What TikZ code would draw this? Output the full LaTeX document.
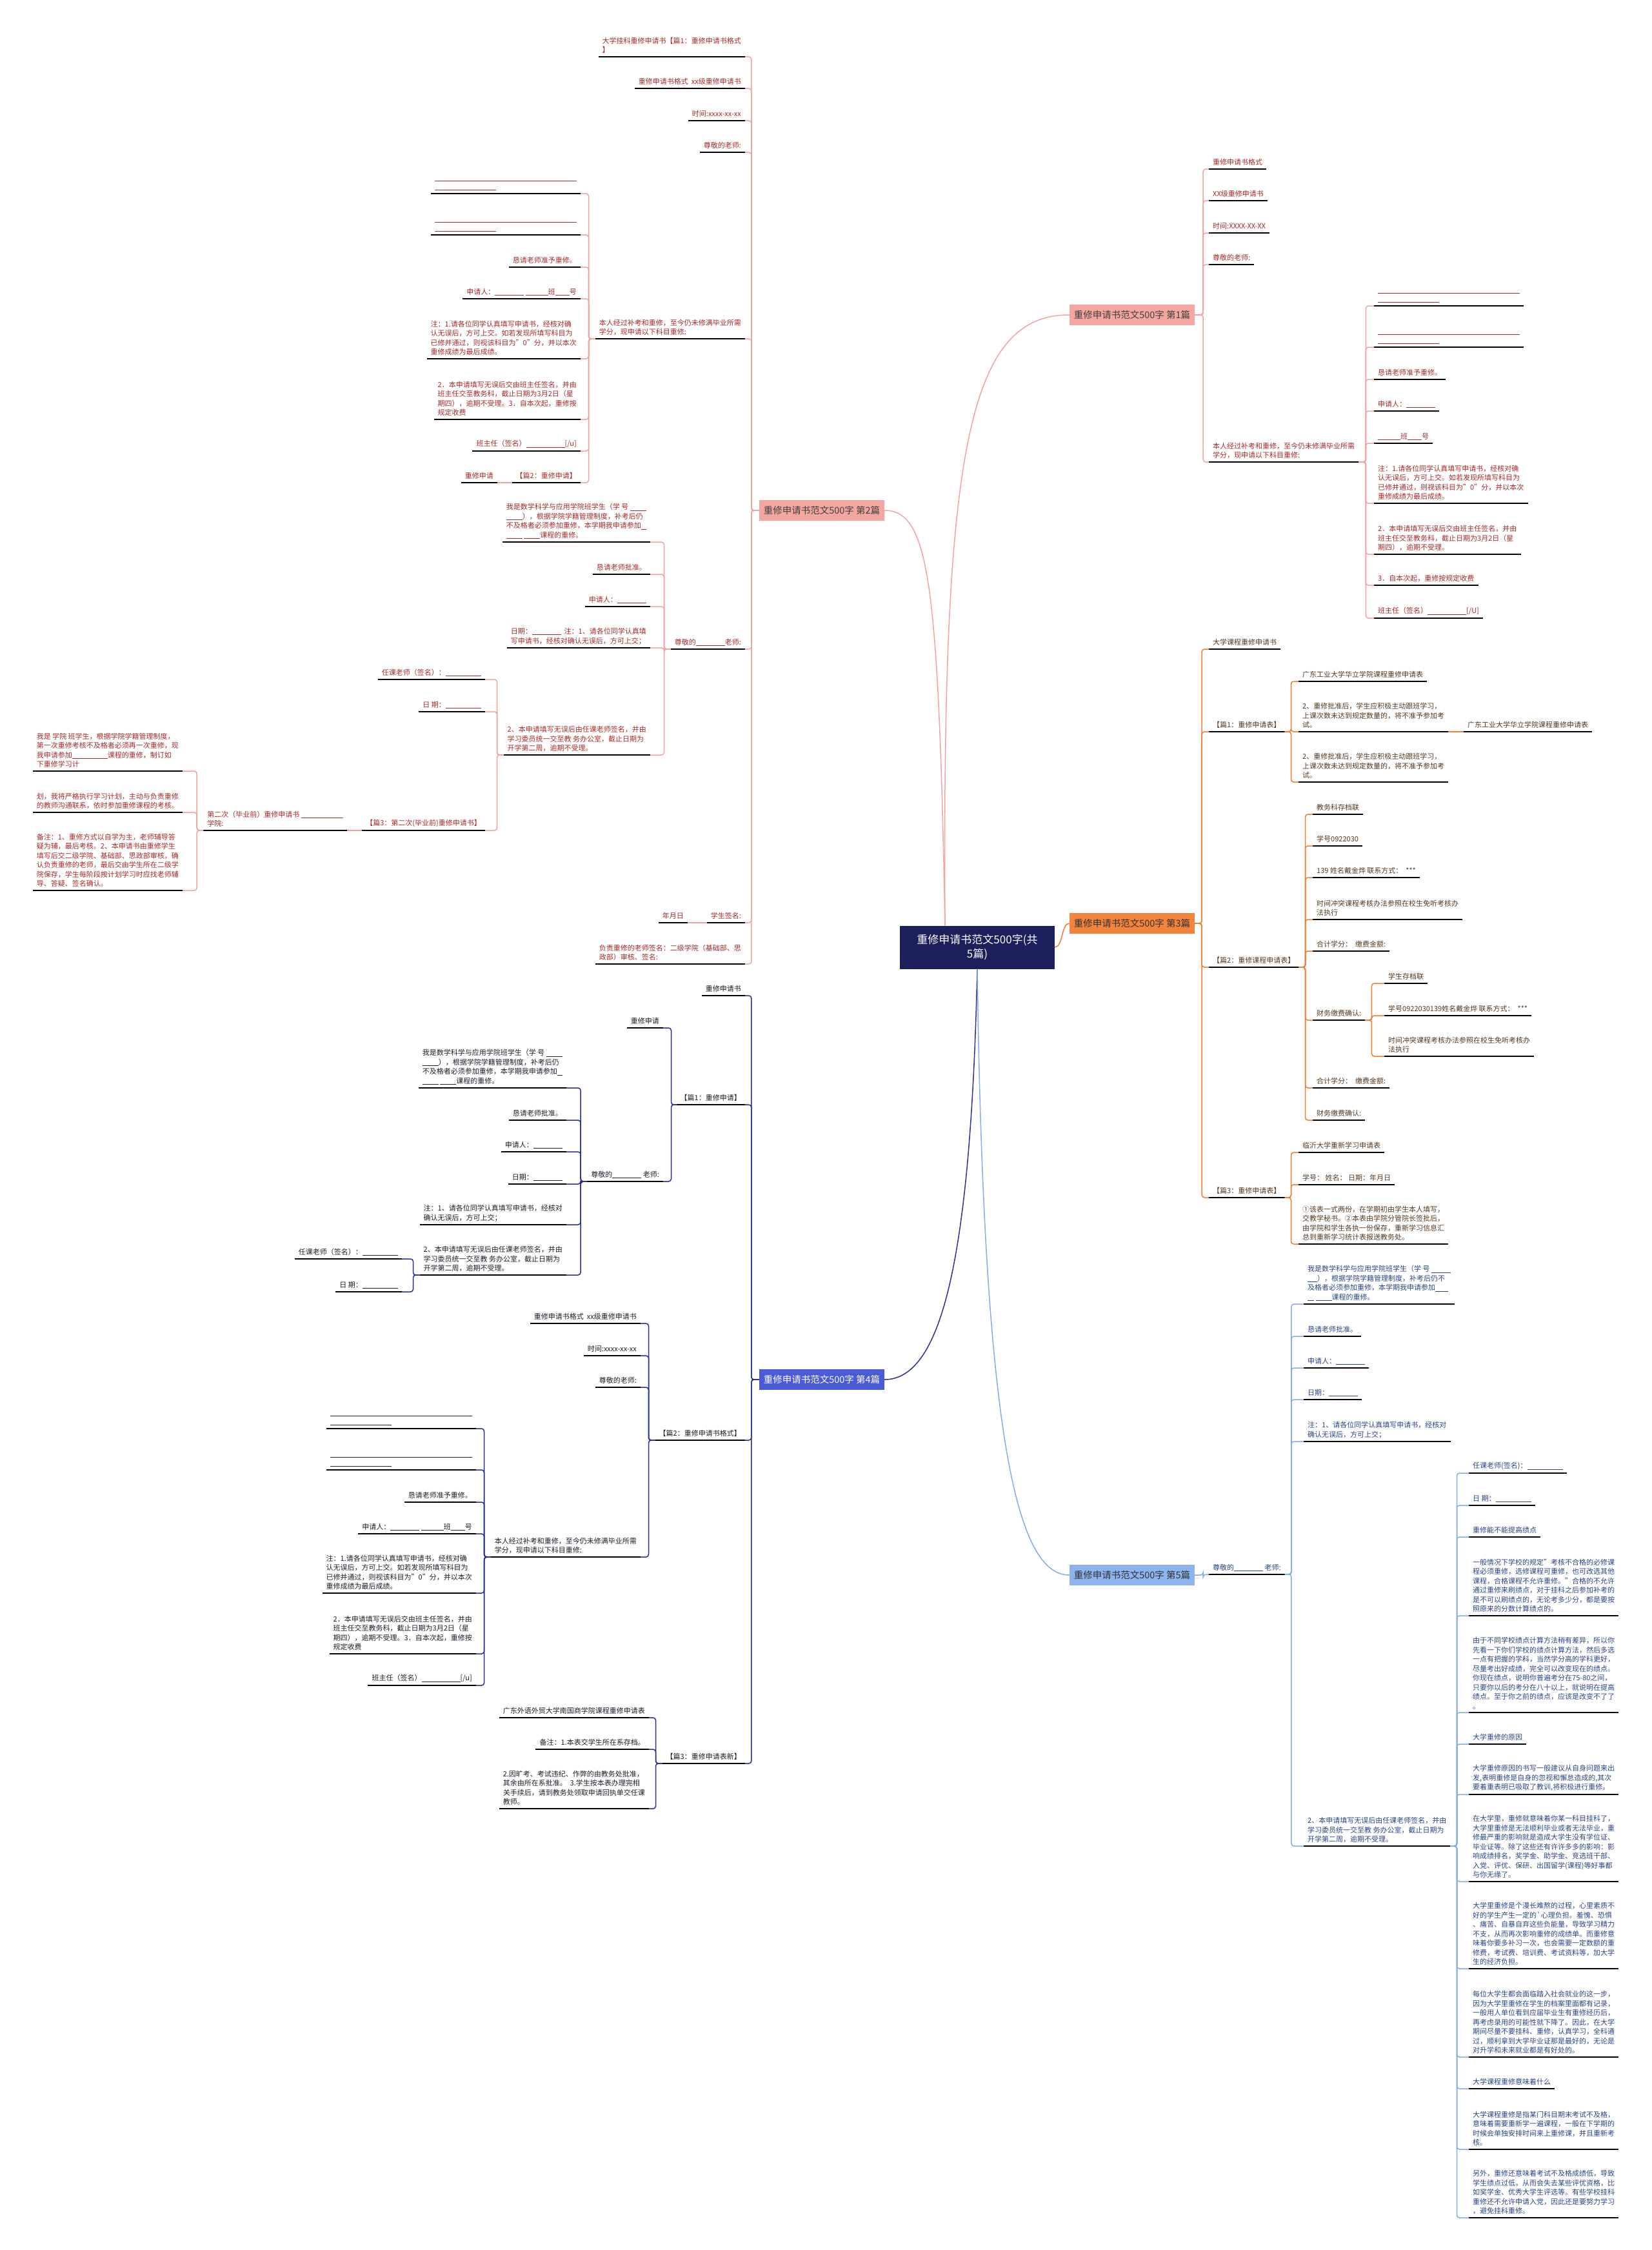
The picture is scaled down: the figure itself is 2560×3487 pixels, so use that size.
\documentclass[tikz,border=0pt]{standalone}
\usepackage{fontspec}
\setmainfont{Noto Sans CJK SC}
\usetikzlibrary{positioning}

\definecolor{ctrblue}{HTML}{1B1F5C}
\definecolor{redtxt}{HTML}{A52A2A}
\definecolor{pinkln}{HTML}{F0A3A0}
\definecolor{pinkbox}{HTML}{F4A7A1}
\definecolor{orgln}{HTML}{EC7F36}
\definecolor{orgbox}{HTML}{F2843C}
\definecolor{browntxt}{HTML}{553A22}
\definecolor{navyln}{HTML}{2B2F96}
\definecolor{bluebox}{HTML}{4B5AD6}
\definecolor{darktxt}{HTML}{1E1E2A}
\definecolor{skyln}{HTML}{84ACE6}
\definecolor{skybox}{HTML}{8DB4EE}
\definecolor{skytxt}{HTML}{2C4585}

\newcommand{\ublank}[1]{\rule[-1.5pt]{#1pt}{0.6pt}}

\begin{document}
\begin{tikzpicture}[x=1pt, y=-1pt,
    leaf/.style={font=\fontsize{11}{14.5}\selectfont, align=left,
                 inner xsep=6pt, inner ysep=5pt,
                 append after command={(\tikzlastnode.south west) edge[uline] (\tikzlastnode.south east)}},
    uline/.style={draw=black, line width=2pt},
    rt/.style={leaf, anchor=south west},
    lt/.style={leaf, anchor=south east},
    pk/.style={text=redtxt},
    og/.style={text=browntxt},
    nv/.style={text=darktxt},
    sk/.style={text=skytxt},
    topic/.style={font=\fontsize{14.5}{17}\selectfont, minimum width=194pt,
                  minimum height=32pt, inner sep=2pt},
    lk1/.style={draw=pinkln, line width=1.5pt, rounded corners=4pt},
    lk3/.style={lk1, draw=orgln},
    lk4/.style={lk1, draw=navyln},
    lk5/.style={lk1, draw=skyln},
  ]
  \fill[white] (0,0) rectangle (2560,3487);
  \useasboundingbox (0,0) rectangle (2560,3487);

  % centre and the five topics
  \node[fill=ctrblue, text=white, font=\fontsize{17}{22}\selectfont, align=center,
        minimum width=240pt, minimum height=67pt] (ctr) at (1515,1468) {重修申请书范文500字(共\\5篇)};
  \node[topic, fill=pinkbox, text=black!75] (b1) at (1755,488) {重修申请书范文500字 第1篇};
  \node[topic, fill=pinkbox, text=black!75] (b2) at (1274,791) {重修申请书范文500字 第2篇};
  \node[topic, fill=orgbox, text=black!80] (b3) at (1755,1431) {重修申请书范文500字 第3篇};
  \node[topic, fill=bluebox, text=white] (b4) at (1274,2138) {重修申请书范文500字 第4篇};
  \node[topic, fill=skybox, text=black!80] (b5) at (1755,2441) {重修申请书范文500字 第5篇};

  \draw[lk1] ([xshift=-50pt]ctr.north) .. controls (1455,900) and (1440,791) .. (b2.east);
  \draw[lk1] ([xshift=-50pt]ctr.north) .. controls (1460,700) and (1500,488) .. (b1.west);
  \draw[lk3] (ctr.east) .. controls (1648,1468) and (1645,1431) .. (b3.west);
  \draw[lk4] (ctr.south) .. controls (1505,1950) and (1460,2138) .. (b4.east);
  \draw[lk5] (ctr.south) .. controls (1525,2250) and (1580,2441) .. (b5.west);

  % Topic 1
  \node[rt, pk] (c1a) at (1874,262) {重修申请书格式};
  \node[rt, pk] (c1b) at (1874,311) {XX级重修申请书};
  \node[rt, pk] (c1c) at (1874,361) {时间:XXXX-XX-XX};
  \node[rt, pk] (c1d) at (1874,410) {尊敬的老师:};
  \node[rt, pk] (c1e) at (1874,716) {本人经过补考和重修，至今仍未修满毕业所需\\学分，现申请以下科目重修:};
  \node[rt, pk] (c1e1) at (2130,474) {\ublank{220}\\\ublank{95}};
  \node[rt, pk] (c1e2) at (2130,538) {\ublank{220}\\\ublank{95}};
  \node[rt, pk] (c1e3) at (2130,588) {恳请老师准予重修。};
  \node[rt, pk] (c1e4) at (2130,637) {申请人：\ublank{45}};
  \node[rt, pk] (c1e5) at (2130,687) {\ublank{35}班\ublank{22}号};
  \node[rt, pk] (c1e6) at (2130,780) {注：1.请各位同学认真填写申请书，经核对确\\认无误后，方可上交。如若发现所填写科目为\\已修并通过，则视该科目为"0"分，并以本次\\重修成绩为最后成绩。};
  \node[rt, pk] (c1e7) at (2130,859) {2．本申请填写无误后交由班主任签名，并由\\班主任交至教务科，截止日期为3月2日（星\\期四），逾期不受理。};
  \node[rt, pk] (c1e8) at (2130,907) {3．自本次起，重修按规定收费};
  \node[rt, pk] (c1e9) at (2130,958) {班主任（签名）\ublank{60}[/U]};

  \draw[lk1] (b1.east) -- ++(13,0) |- (c1a.south west);
  \draw[lk1] (b1.east) -- ++(13,0) |- (c1b.south west);
  \draw[lk1] (b1.east) -- ++(13,0) |- (c1c.south west);
  \draw[lk1] (b1.east) -- ++(13,0) |- (c1d.south west);
  \draw[lk1] (b1.east) -- ++(13,0) |- (c1e.south west);
  \draw[lk1] (c1e.south east) -- ++(11,0) |- (c1e1.south west);
  \draw[lk1] (c1e.south east) -- ++(11,0) |- (c1e2.south west);
  \draw[lk1] (c1e.south east) -- ++(11,0) |- (c1e3.south west);
  \draw[lk1] (c1e.south east) -- ++(11,0) |- (c1e4.south west);
  \draw[lk1] (c1e.south east) -- ++(11,0) |- (c1e5.south west);
  \draw[lk1] (c1e.south east) -- ++(11,0) |- (c1e6.south west);
  \draw[lk1] (c1e.south east) -- ++(11,0) |- (c1e7.south west);
  \draw[lk1] (c1e.south east) -- ++(11,0) |- (c1e8.south west);
  \draw[lk1] (c1e.south east) -- ++(11,0) |- (c1e9.south west);

  % Topic 2
  \node[lt, pk] (c2a) at (1155,88) {大学挂科重修申请书【篇1：重修申请书格式\\】};
  \node[lt, pk] (c2b) at (1155,137) {重修申请书格式\ \ xx级重修申请书};
  \node[lt, pk] (c2c) at (1155,187) {时间:xxxx-xx-xx};
  \node[lt, pk] (c2d) at (1155,236) {尊敬的老师:};
  \node[lt, pk] (c2e) at (1155,525) {本人经过补考和重修，至今仍未修满毕业所需\\学分，现申请以下科目重修:};
  \node[lt, pk] (c2e1) at (900,300) {\ublank{220}\\\ublank{95}};
  \node[lt, pk] (c2e2) at (900,364) {\ublank{220}\\\ublank{95}};
  \node[lt, pk] (c2e3) at (900,414) {恳请老师准予重修。};
  \node[lt, pk] (c2e4) at (900,463) {申请人：\ublank{45}\ \ublank{35}班\ublank{22}号};
  \node[lt, pk] (c2e5) at (900,556) {注：1.请各位同学认真填写申请书，经核对确\\认无误后，方可上交。如若发现所填写科目为\\已修并通过，则视该科目为"0"分，并以本次\\重修成绩为最后成绩。};
  \node[lt, pk] (c2e6) at (900,650) {2．本申请填写无误后交由班主任签名，并由\\班主任交至教务科，截止日期为3月2日（星\\期四），逾期不受理。3．自本次起，重修按\\规定收费};
  \node[lt, pk] (c2e7) at (900,699) {班主任（签名）\ublank{60}[/u]};
  \node[lt, pk] (c2e8) at (900,748) {【篇2：重修申请】};
  \node[lt, pk] (c2e8a) at (771,748) {重修申请};
  \node[lt, pk] (c2f) at (1155,1006) {尊敬的\ublank{45}老师:};
  \node[lt, pk] (c2f1) at (1008,840) {我是数学科学与应用学院班学生（学 号 \ublank{25}\\\ublank{25}），根据学院学籍管理制度，补考后仍\\不及格者必须参加重修，本学期我申请参加\ublank{8}\\\ublank{25} \ublank{25}课程的重修。};
  \node[lt, pk] (c2f2) at (1008,890) {恳请老师批准。};
  \node[lt, pk] (c2f3) at (1008,940) {申请人：\ublank{45}};
  \node[lt, pk] (c2f4) at (1008,1004) {日期：\ublank{45}\ \ 注：1、请各位同学认真填\\写申请书，经核对确认无误后，方可上交；};
  \node[lt, pk] (c2f5) at (1008,1170) {2、本申请填写无误后由任课老师签名，并由\\学习委员统一交至教 务办公室，截止日期为\\开学第二周，逾期不受理。};
  \node[lt, pk] (c2f5a) at (752,1053) {任课老师（签名）：\ublank{55}};
  \node[lt, pk] (c2f5b) at (752,1103) {日 期：\ublank{55}};
  \node[lt, pk] (c2f5c) at (752,1287) {【篇3：第二次(毕业前)重修申请书】};
  \node[lt, pk] (c2f5c1) at (538,1287) {第二次（毕业前）重修申请书 \ublank{65}\\学院:};
  \node[lt, pk] (c2f5c1a) at (283,1195) {我是 学院 班学生，根据学院学籍管理制度，\\第一次重修考核不及格者必须再一次重修，现\\我申请参加\ublank{55}课程的重修，制订如\\下重修学习计};
  \node[lt, pk] (c2f5c1b) at (283,1259) {划，我将严格执行学习计划，主动与负责重修\\的教师沟通联系，依时参加重修课程的考核。};
  \node[lt, pk] (c2f5c1c) at (283,1380) {备注：1、重修方式以自学为主，老师辅导答\\疑为辅，最后考核。2、本申请书由重修学生\\填写后交二级学院、基础部、思政部审核，确\\认负责重修的老师，最后交由学生所在二级学\\院保存，学生每阶段按计划学习时应找老师辅\\导、答疑、签名确认。};
  \node[lt, pk] (c2g) at (1155,1430) {学生签名:};
  \node[lt, pk] (c2g1) at (1066,1430) {年月日};
  \node[lt, pk] (c2h) at (1155,1494) {负责重修的老师签名：二级学院（基础部、思\\政部）审核、签名:};

  \draw[lk1] (b2.west) -- ++(-12,0) |- (c2a.south east);
  \draw[lk1] (b2.west) -- ++(-12,0) |- (c2b.south east);
  \draw[lk1] (b2.west) -- ++(-12,0) |- (c2c.south east);
  \draw[lk1] (b2.west) -- ++(-12,0) |- (c2d.south east);
  \draw[lk1] (b2.west) -- ++(-12,0) |- (c2e.south east);
  \draw[lk1] (b2.west) -- ++(-12,0) |- (c2f.south east);
  \draw[lk1] (b2.west) -- ++(-12,0) |- (c2g.south east);
  \draw[lk1] (b2.west) -- ++(-12,0) |- (c2h.south east);
  \draw[lk1] (c2e.south west) -- ++(-10,0) |- (c2e1.south east);
  \draw[lk1] (c2e.south west) -- ++(-10,0) |- (c2e2.south east);
  \draw[lk1] (c2e.south west) -- ++(-10,0) |- (c2e3.south east);
  \draw[lk1] (c2e.south west) -- ++(-10,0) |- (c2e4.south east);
  \draw[lk1] (c2e.south west) -- ++(-10,0) |- (c2e5.south east);
  \draw[lk1] (c2e.south west) -- ++(-10,0) |- (c2e6.south east);
  \draw[lk1] (c2e.south west) -- ++(-10,0) |- (c2e7.south east);
  \draw[lk1] (c2e.south west) -- ++(-10,0) |- (c2e8.south east);
  \draw[lk1] (c2e8.south west) -- (c2e8a.south east);
  \draw[lk1] (c2f.south west) -- ++(-10,0) |- (c2f1.south east);
  \draw[lk1] (c2f.south west) -- ++(-10,0) |- (c2f2.south east);
  \draw[lk1] (c2f.south west) -- ++(-10,0) |- (c2f3.south east);
  \draw[lk1] (c2f.south west) -- ++(-10,0) |- (c2f4.south east);
  \draw[lk1] (c2f.south west) -- ++(-10,0) |- (c2f5.south east);
  \draw[lk1] (c2f5.south west) -- ++(-10,0) |- (c2f5a.south east);
  \draw[lk1] (c2f5.south west) -- ++(-10,0) |- (c2f5b.south east);
  \draw[lk1] (c2f5.south west) -- ++(-10,0) |- (c2f5c.south east);
  \draw[lk1] (c2f5c.south west) -- (c2f5c1.south east);
  \draw[lk1] (c2f5c1.south west) -- ++(-10,0) |- (c2f5c1a.south east);
  \draw[lk1] (c2f5c1.south west) -- ++(-10,0) |- (c2f5c1b.south east);
  \draw[lk1] (c2f5c1.south west) -- ++(-10,0) |- (c2f5c1c.south east);
  \draw[lk1] (c2g.south west) -- (c2g1.south east);

  % Topic 3
  \node[rt, og] (c3a) at (1874,1006) {大学课程重修申请书};
  \node[rt, og] (c3b) at (1874,1134) {【篇1：重修申请表】};
  \node[rt, og] (c3b1) at (2013,1056) {广东工业大学华立学院课程重修申请表};
  \node[rt, og] (c3b2) at (2013,1134) {2、重修批准后，学生应积极主动跟班学习，\\上课次数未达到规定数量的，将不准予参加考\\试。};
  \node[rt, og] (c3b2a) at (2269,1134) {广东工业大学华立学院课程重修申请表};
  \node[rt, og] (c3b3) at (2013,1212) {2、重修批准后，学生应积极主动跟班学习，\\上课次数未达到规定数量的，将不准予参加考\\试。};
  \node[rt, og] (c3c) at (1874,1499) {【篇2：重修课程申请表】};
  \node[rt, og] (c3c1) at (2035,1262) {教务科存档联};
  \node[rt, og] (c3c2) at (2035,1311) {学号0922030};
  \node[rt, og] (c3c3) at (2035,1360) {139 姓名戴金烨 联系方式：\ \ ***};
  \node[rt, og] (c3c4) at (2035,1425) {时间冲突课程考核办法参照在校生免听考核办\\法执行};
  \node[rt, og] (c3c5) at (2035,1474) {合计学分：\ \ 缴费金额:};
  \node[rt, og] (c3c6) at (2035,1581) {财务缴费确认:};
  \node[rt, og] (c3c6a) at (2146,1524) {学生存档联};
  \node[rt, og] (c3c6b) at (2146,1574) {学号0922030139姓名戴金烨 联系方式：\ \ ***};
  \node[rt, og] (c3c6c) at (2146,1637) {时间冲突课程考核办法参照在校生免听考核办\\法执行};
  \node[rt, og] (c3c7) at (2035,1686) {合计学分：\ \ 缴费金额:};
  \node[rt, og] (c3c8) at (2035,1736) {财务缴费确认:};
  \node[rt, og] (c3d) at (1874,1856) {【篇3：重修申请表】};
  \node[rt, og] (c3d1) at (2013,1786) {临沂大学重新学习申请表};
  \node[rt, og] (c3d2) at (2013,1836) {学号：\ 姓名：\ 日期：年月日};
  \node[rt, og] (c3d3) at (2013,1928) {①该表一式两份，在学期初由学生本人填写，\\交教学秘书。②本表由学院分管院长签批后，\\由学院和学生各执一份保存，重新学习信息汇\\总到重新学习统计表报送教务处。};

  \draw[lk3] (b3.east) -- ++(11,0) |- (c3a.south west);
  \draw[lk3] (b3.east) -- ++(11,0) |- (c3b.south west);
  \draw[lk3] (b3.east) -- ++(11,0) |- (c3c.south west);
  \draw[lk3] (b3.east) -- ++(11,0) |- (c3d.south west);
  \draw[lk3] (c3b.south east) -- ++(10,0) |- (c3b1.south west);
  \draw[lk3] (c3b.south east) -- ++(10,0) |- (c3b2.south west);
  \draw[lk3] (c3b.south east) -- ++(10,0) |- (c3b3.south west);
  \draw[lk3] (c3b2.south east) -- (c3b2a.south west);
  \draw[lk3] (c3c.south east) -- ++(10,0) |- (c3c1.south west);
  \draw[lk3] (c3c.south east) -- ++(10,0) |- (c3c2.south west);
  \draw[lk3] (c3c.south east) -- ++(10,0) |- (c3c3.south west);
  \draw[lk3] (c3c.south east) -- ++(10,0) |- (c3c4.south west);
  \draw[lk3] (c3c.south east) -- ++(10,0) |- (c3c5.south west);
  \draw[lk3] (c3c.south east) -- ++(10,0) |- (c3c6.south west);
  \draw[lk3] (c3c.south east) -- ++(10,0) |- (c3c7.south west);
  \draw[lk3] (c3c.south east) -- ++(10,0) |- (c3c8.south west);
  \draw[lk3] (c3c6.south east) -- ++(10,0) |- (c3c6a.south west);
  \draw[lk3] (c3c6.south east) -- ++(10,0) |- (c3c6b.south west);
  \draw[lk3] (c3c6.south east) -- ++(10,0) |- (c3c6c.south west);
  \draw[lk3] (c3d.south east) -- ++(10,0) |- (c3d1.south west);
  \draw[lk3] (c3d.south east) -- ++(10,0) |- (c3d2.south west);
  \draw[lk3] (c3d.south east) -- ++(10,0) |- (c3d3.south west);

  % Topic 4
  \node[lt, nv] (c4a) at (1155,1543) {重修申请书};
  \node[lt, nv] (c4b) at (1155,1712) {【篇1：重修申请】};
  \node[lt, nv] (c4b1) at (1028,1593) {重修申请};
  \node[lt, nv] (c4b2) at (1028,1831) {尊敬的\ublank{45} 老师:};
  \node[lt, nv] (c4b2a) at (878,1686) {我是数学科学与应用学院班学生（学 号 \ublank{25}\\\ublank{25}），根据学院学籍管理制度，补考后仍\\不及格者必须参加重修，本学期我申请参加\ublank{8}\\\ublank{25} \ublank{25}课程的重修。};
  \node[lt, nv] (c4b2b) at (878,1736) {恳请老师批准。};
  \node[lt, nv] (c4b2c) at (878,1785) {申请人：\ublank{45}};
  \node[lt, nv] (c4b2d) at (878,1835) {日期：\ublank{45}};
  \node[lt, nv] (c4b2e) at (878,1898) {注：1、请各位同学认真填写申请书，经核对\\确认无误后，方可上交；};
  \node[lt, nv] (c4b2f) at (878,1976) {2、本申请填写无误后由任课老师签名，并由\\学习委员统一交至教 务办公室，截止日期为\\开学第二周，逾期不受理。};
  \node[lt, nv] (c4b2f1) at (623,1951) {任课老师（签名）：\ublank{55}};
  \node[lt, nv] (c4b2f2) at (623,2002) {日 期：\ublank{55}};
  \node[lt, nv] (c4c) at (1155,2232) {【篇2：重修申请书格式】};
  \node[lt, nv] (c4c1) at (993,2051) {重修申请书格式\ \ xx级重修申请书};
  \node[lt, nv] (c4c2) at (993,2101) {时间:xxxx-xx-xx};
  \node[lt, nv] (c4c3) at (993,2150) {尊敬的老师:};
  \node[lt, nv] (c4c4) at (993,2413) {本人经过补考和重修，至今仍未修满毕业所需\\学分，现申请以下科目重修:};
  \node[lt, nv] (c4c4a) at (738,2214) {\ublank{220}\\\ublank{95}};
  \node[lt, nv] (c4c4b) at (738,2278) {\ublank{220}\\\ublank{95}};
  \node[lt, nv] (c4c4c) at (738,2328) {恳请老师准予重修。};
  \node[lt, nv] (c4c4d) at (738,2377) {申请人：\ublank{45}\ \ublank{35}班\ublank{22}号};
  \node[lt, nv] (c4c4e) at (738,2469) {注：1.请各位同学认真填写申请书，经核对确\\认无误后，方可上交。如若发现所填写科目为\\已修并通过，则视该科目为"0"分，并以本次\\重修成绩为最后成绩。};
  \node[lt, nv] (c4c4f) at (738,2563) {2．本申请填写无误后交由班主任签名，并由\\班主任交至教务科，截止日期为3月2日（星\\期四），逾期不受理。3．自本次起，重修按\\规定收费};
  \node[lt, nv] (c4c4g) at (738,2612) {班主任（签名）\ublank{60}[/u]};
  \node[lt, nv] (c4d) at (1155,2733) {【篇3：重修申请表新】};
  \node[lt, nv] (c4d1) at (1006,2662) {广东外语外贸大学南国商学院课程重修申请表};
  \node[lt, nv] (c4d2) at (1006,2711) {备注：1.本表交学生所在系存档。};
  \node[lt, nv] (c4d3) at (1006,2803) {2.因旷考、考试违纪、作弊的由教务处批准，\\其余由所在系批准。\ \ 3.学生按本表办理完相\\关手续后，请到教务处领取申请回执单交任课\\教师。};

  \draw[lk4] (b4.west) -- ++(-12,0) |- (c4a.south east);
  \draw[lk4] (b4.west) -- ++(-12,0) |- (c4b.south east);
  \draw[lk4] (b4.west) -- ++(-12,0) |- (c4c.south east);
  \draw[lk4] (b4.west) -- ++(-12,0) |- (c4d.south east);
  \draw[lk4] (c4b.south west) -- ++(-8,0) |- (c4b1.south east);
  \draw[lk4] (c4b.south west) -- ++(-8,0) |- (c4b2.south east);
  \draw[lk4] (c4b2.south west) -- ++(-10,0) |- (c4b2a.south east);
  \draw[lk4] (c4b2.south west) -- ++(-10,0) |- (c4b2b.south east);
  \draw[lk4] (c4b2.south west) -- ++(-10,0) |- (c4b2c.south east);
  \draw[lk4] (c4b2.south west) -- ++(-10,0) |- (c4b2d.south east);
  \draw[lk4] (c4b2.south west) -- ++(-10,0) |- (c4b2e.south east);
  \draw[lk4] (c4b2.south west) -- ++(-10,0) |- (c4b2f.south east);
  \draw[lk4] (c4b2f.south west) -- ++(-10,0) |- (c4b2f1.south east);
  \draw[lk4] (c4b2f.south west) -- ++(-10,0) |- (c4b2f2.south east);
  \draw[lk4] (c4c.south west) -- ++(-10,0) |- (c4c1.south east);
  \draw[lk4] (c4c.south west) -- ++(-10,0) |- (c4c2.south east);
  \draw[lk4] (c4c.south west) -- ++(-10,0) |- (c4c3.south east);
  \draw[lk4] (c4c.south west) -- ++(-10,0) |- (c4c4.south east);
  \draw[lk4] (c4c4.south west) -- ++(-10,0) |- (c4c4a.south east);
  \draw[lk4] (c4c4.south west) -- ++(-10,0) |- (c4c4b.south east);
  \draw[lk4] (c4c4.south west) -- ++(-10,0) |- (c4c4c.south east);
  \draw[lk4] (c4c4.south west) -- ++(-10,0) |- (c4c4d.south east);
  \draw[lk4] (c4c4.south west) -- ++(-10,0) |- (c4c4e.south east);
  \draw[lk4] (c4c4.south west) -- ++(-10,0) |- (c4c4f.south east);
  \draw[lk4] (c4c4.south west) -- ++(-10,0) |- (c4c4g.south east);
  \draw[lk4] (c4d.south west) -- ++(-10,0) |- (c4d1.south east);
  \draw[lk4] (c4d.south west) -- ++(-10,0) |- (c4d2.south east);
  \draw[lk4] (c4d.south west) -- ++(-10,0) |- (c4d3.south east);

  % Topic 5
  \node[rt, sk] (c5a) at (1874,2440) {尊敬的\ublank{45} 老师:};
  \node[rt, sk] (c5a1) at (2021,2021) {我是数学科学与应用学院班学生（学 号 \ublank{30}\\\ublank{15}），根据学院学籍管理制度，补考后仍不\\及格者必须参加重修，本学期我申请参加\ublank{20}\\\ublank{10} \ublank{25}课程的重修。};
  \node[rt, sk] (c5a2) at (2021,2071) {恳请老师批准。};
  \node[rt, sk] (c5a3) at (2021,2120) {申请人：\ublank{45}};
  \node[rt, sk] (c5a4) at (2021,2169) {日期：\ublank{45}};
  \node[rt, sk] (c5a5) at (2021,2234) {注：1、请各位同学认真填写申请书，经核对\\确认无误后，方可上交；};
  \node[rt, sk] (c5a6) at (2021,2861) {2、本申请填写无误后由任课老师签名，并由\\学习委员统一交至教 务办公室，截止日期为\\开学第二周，逾期不受理。};
  \node[rt, sk] (c5a6a) at (2277,2283) {任课老师(签名)：\ublank{55}};
  \node[rt, sk] (c5a6b) at (2277,2333) {日 期：\ublank{55}};
  \node[rt, sk] (c5a6c) at (2277,2382) {重修能不能提高绩点};
  \node[rt, sk] (c5a6d) at (2277,2504) {一般情况下学校的规定"考核不合格的必修课\\程必须重修，选修课程可重修，也可改选其他\\课程，合格课程不允许重修。"合格的不允许\\通过重修来刷绩点，对于挂科之后参加补考的\\是不可以刷绩点的，无论考多少分，都是要按\\照原来的分数计算绩点的。};
  \node[rt, sk] (c5a6e) at (2277,2654) {由于不同学校绩点计算方法稍有差异，所以你\\先看一下你们学校的绩点计算方法，然后多选\\一点有把握的学科，当然学分高的学科更好，\\尽量考出好成绩，完全可以改变现在的绩点。\\你现在绩点，说明你普遍考分在75-80之间，\\只要你以后的考分在八十以上，就说明在提高\\绩点。至于你之前的绩点，应该是改变不了了\\。};
  \node[rt, sk] (c5a6f) at (2277,2703) {大学重修的原因};
  \node[rt, sk] (c5a6g) at (2277,2781) {大学重修原因的书写一般建议从自身问题来出\\发,表明重修是自身的忽视和懈怠造成的,其次\\要着重表明已吸取了教训,将积极进行重修。};
  \node[rt, sk] (c5a6h) at (2277,2916) {在大学里，重修就意味着你某一科目挂科了，\\大学里重修是无法顺利毕业或者无法毕业，重\\修最严重的影响就是造成大学生没有学位证、\\毕业证等。除了这些还有许许多多的影响：影\\响成绩排名，奖学金、助学金、竞选班干部、\\入党、评优、保研、出国留学(课程)等好事都\\与你无缘了。};
  \node[rt, sk] (c5a6i) at (2277,3051) {大学里重修是个漫长难熬的过程，心里素质不\\好的学生产生一定的\textasciigrave 心理负担。羞愧、恐惧\\、痛苦、自暴自弃这些负能量，导致学习精力\\不支，从而再次影响重修的成绩单。而重修意\\味着你要多补习一次，也会需要一定数额的重\\修费，考试费、培训费、考试资料等，加大学\\生的经济负担。};
  \node[rt, sk] (c5a6j) at (2277,3188) {每位大学生都会面临踏入社会就业的这一步，\\因为大学里重修在学生的档案里面都有记录，\\一般用人单位看到应届毕业生有重修经历后，\\再考虑录用的可能性就下降了。因此，在大学\\期间尽量不要挂科、重修，认真学习，全科通\\过，顺利拿到大学毕业证那是最好的，无论是\\对升学和未来就业都是有好处的。};
  \node[rt, sk] (c5a6k) at (2277,3237) {大学课程重修意味着什么};
  \node[rt, sk] (c5a6l) at (2277,3331) {大学课程重修是指某门科目期末考试不及格，\\意味着需要重新学一遍课程，一般在下学期的\\时候会单独安排时间来上重修课，并且重新考\\核。};
  \node[rt, sk] (c5a6m) at (2277,3437) {另外，重修还意味着考试不及格成绩低，导致\\学生绩点过低，从而会失去某些评优资格，比\\如奖学金、优秀大学生评选等。有些学校挂科\\重修还不允许申请入党，因此还是要努力学习\\，避免挂科重修。};

  \draw[lk5] (b5.east) -- ++(13,0) |- (c5a.south west);
  \draw[lk5] (c5a.south east) -- ++(10,0) |- (c5a1.south west);
  \draw[lk5] (c5a.south east) -- ++(10,0) |- (c5a2.south west);
  \draw[lk5] (c5a.south east) -- ++(10,0) |- (c5a3.south west);
  \draw[lk5] (c5a.south east) -- ++(10,0) |- (c5a4.south west);
  \draw[lk5] (c5a.south east) -- ++(10,0) |- (c5a5.south west);
  \draw[lk5] (c5a.south east) -- ++(10,0) |- (c5a6.south west);
  \draw[lk5] (c5a6.south east) -- ++(10,0) |- (c5a6a.south west);
  \draw[lk5] (c5a6.south east) -- ++(10,0) |- (c5a6b.south west);
  \draw[lk5] (c5a6.south east) -- ++(10,0) |- (c5a6c.south west);
  \draw[lk5] (c5a6.south east) -- ++(10,0) |- (c5a6d.south west);
  \draw[lk5] (c5a6.south east) -- ++(10,0) |- (c5a6e.south west);
  \draw[lk5] (c5a6.south east) -- ++(10,0) |- (c5a6f.south west);
  \draw[lk5] (c5a6.south east) -- ++(10,0) |- (c5a6g.south west);
  \draw[lk5] (c5a6.south east) -- ++(10,0) |- (c5a6h.south west);
  \draw[lk5] (c5a6.south east) -- ++(10,0) |- (c5a6i.south west);
  \draw[lk5] (c5a6.south east) -- ++(10,0) |- (c5a6j.south west);
  \draw[lk5] (c5a6.south east) -- ++(10,0) |- (c5a6k.south west);
  \draw[lk5] (c5a6.south east) -- ++(10,0) |- (c5a6l.south west);
  \draw[lk5] (c5a6.south east) -- ++(10,0) |- (c5a6m.south west);
\end{tikzpicture}
\end{document}
